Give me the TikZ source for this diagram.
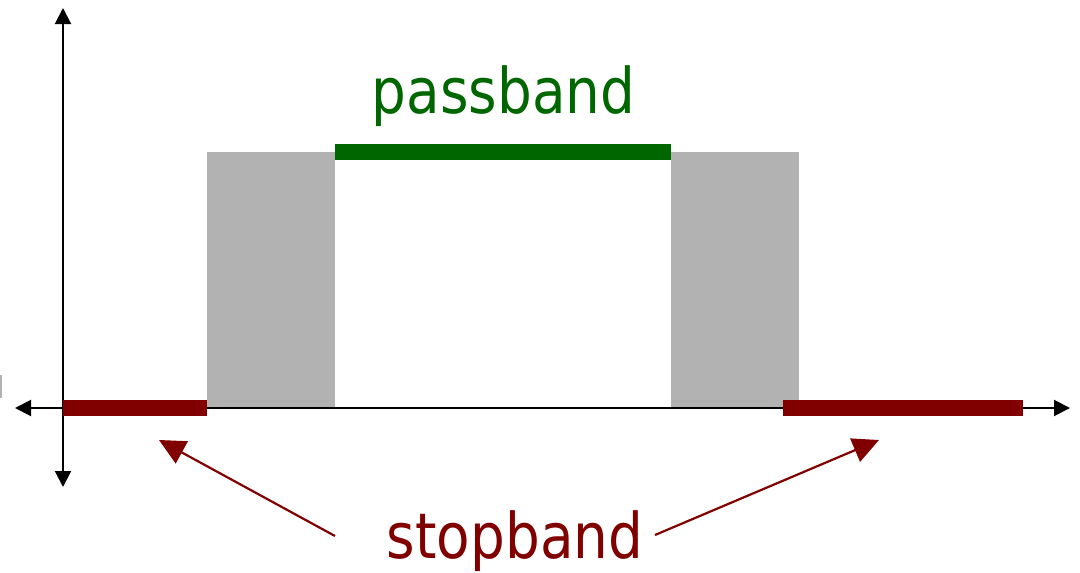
\documentclass[tikz,border=0pt]{standalone}
\usepackage{fontspec}
\newfontfamily\labelfont[FakeStretch=0.87]{DejaVu Sans}
\usetikzlibrary{arrows.meta}
\definecolor{passgreen}{RGB}{0,102,0}
\definecolor{stopred}{RGB}{128,0,0}
\definecolor{bandgray}{RGB}{178,178,178}
\tikzset{
  axisline/.style={line width=2pt, black, -{Triangle[length=16pt,width=16pt]}},
  graybox/.style={fill=bandgray, draw=none},
  stopbar/.style={fill=stopred, draw=none},
  passbar/.style={fill=passgreen, draw=none},
  pointer/.style={line width=2.2pt, stopred, -{Triangle[length=26pt,width=25pt]}},
  bandlabel/.style={inner sep=0pt, anchor=base, font=\labelfont\fontsize{63}{70}\selectfont}
}
\begin{document}
\begin{tikzpicture}[x=1pt,y=-1pt]
\useasboundingbox (0,0) rectangle (1080,573);
% small mark at left edge
\fill[bandgray] (0,375) rectangle (1.5,398);
% transition bands
\fill[graybox] (207,152) rectangle (335,408);
\fill[graybox] (671,152) rectangle (799,408);
% axes
\coordinate (origin) at (63,408);
\coordinate (xpos) at (1070,408);
\coordinate (xneg) at (15,408);
\coordinate (ypos) at (63,8);
\coordinate (yneg) at (63,487);
\draw[axisline] (origin) -- (xpos);
\draw[axisline] (origin) -- (xneg);
\draw[axisline] (origin) -- (ypos);
\draw[axisline] (origin) -- (yneg);
% stopband bars
\fill[stopbar] (63,400) rectangle (207,416);
\fill[stopbar] (783,400) rectangle (1023,416);
% passband bar
\fill[passbar] (335,144) rectangle (671,160);
% labels
\node[bandlabel, text=passgreen] (pass) at (503.5,113) {passband};
\node[bandlabel, text=stopred] (stop) at (515,558) {stopband};
% pointers
\coordinate (lstart) at (335,536);
\coordinate (ltip) at (159,440);
\coordinate (rstart) at (655,535);
\coordinate (rtip) at (879,440);
\draw[pointer] (lstart) -- (ltip);
\draw[pointer] (rstart) -- (rtip);
\end{tikzpicture}
\end{document}
